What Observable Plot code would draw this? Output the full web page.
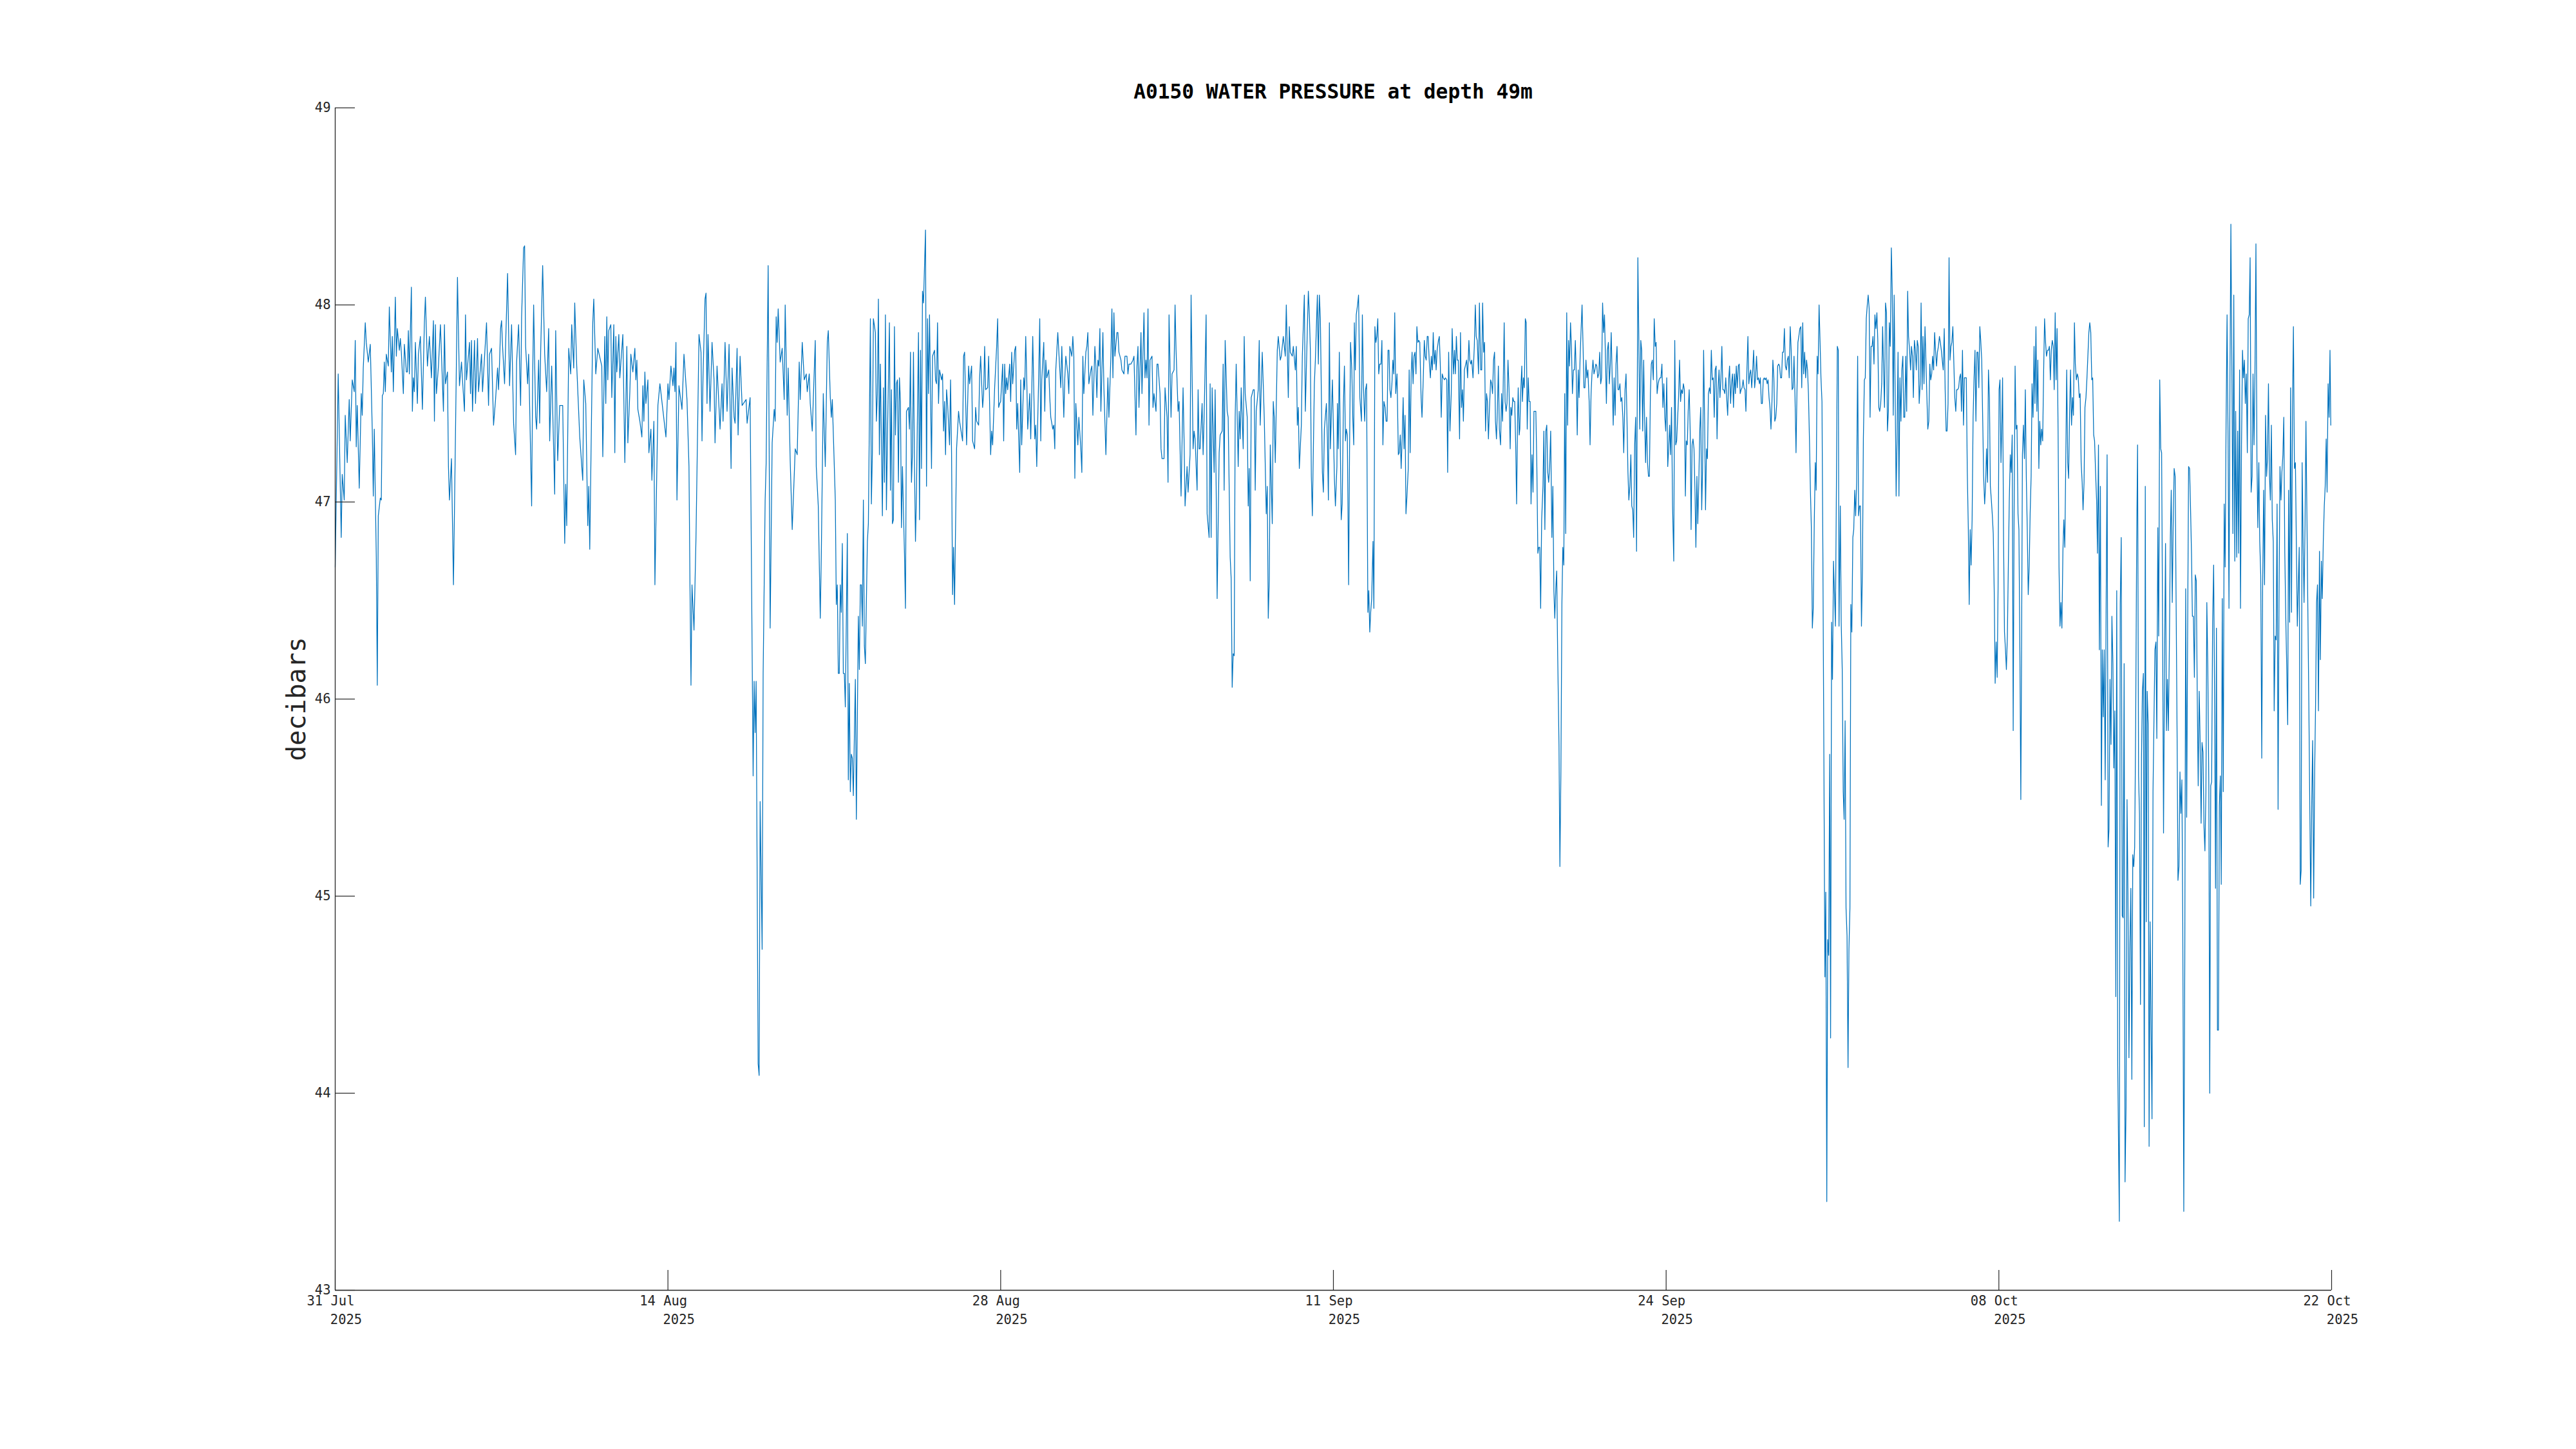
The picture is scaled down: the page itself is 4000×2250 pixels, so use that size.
<!DOCTYPE html>
<html>
<head>
<meta charset="utf-8">
<script src="https://cdn.jsdelivr.net/npm/d3@7"></script>
<script src="https://cdn.jsdelivr.net/npm/@observablehq/plot@0.6"></script>
<style>
html, body { margin: 0; padding: 0; background: #ffffff; }
#chart { position: relative; width: 4000px; height: 2250px; overflow: hidden; }
#chart figure { position: relative; margin: 0; }
#chart h2 {
  position: absolute; top: 126px; left: 520px; width: 3100px; margin: 0;
  text-align: center; font-family: "DejaVu Sans Mono", monospace; font-weight: bold;
  font-size: 31.2px; line-height: 32px; color: #000000;
}
</style>
</head>
<body>
<div id="chart"></div>
<script>
const chartTitle = "A0150 WATER PRESSURE at depth 49m";
const yLabel = "decibars";
const seriesStart = "2025-07-31T00:00:00Z";
const seriesEnd = "2025-10-22T00:00:00Z";
const yTicks = [43, 44, 45, 46, 47, 48, 49];
const xTickTimes = ["2025-07-31T00:00Z", "2025-08-13T20:00Z", "2025-08-27T16:00Z", "2025-09-10T12:00Z", "2025-09-24T08:00Z", "2025-10-08T04:00Z", "2025-10-22T00:00Z"];
const xTickDays = ["31 Jul", "14 Aug", "28 Aug", "11 Sep", "24 Sep", "08 Oct", "22 Oct"];
const xTickYears = ["2025", "2025", "2025", "2025", "2025", "2025", "2025"];

// [hours since 31 Jul 00:00, pressure in decibars]
const obsJulAug = [[0,46.67],[3,47.65],[6,46.82],[7,47.14],[9,47.01],[10,47.44],[12,47.20],[14,47.52],[15,47.31],[17,47.62],[19,47.56],[20,47.82],[21,47.28],[22,47.49],[24,47.07],[26,47.55],[27,47.44],[28,47.68],[30,47.91],[31,47.81],[33,47.71],[35,47.80],[37,47.36],[38,47.03],[39,47.37],[41,46.72],[42,46.07],[43,46.93],[45,47.02],[46,47.01],[47,47.54],[48,47.55],[49,47.71],[50,47.56],[51,47.75],[53,47.69],[54,47.99],[56,47.66],[57,47.84],[58,47.56],[60,48.04],[61,47.74],[62,47.88],[64,47.77],[65,47.83],[66,47.76],[68,47.55],[69,47.80],[71,47.66],[72,47.66],[73,47.87],[74,47.65],[76,48.09],[77,47.46],[78,47.63],[79,47.56],[80,47.81],[82,47.50],[83,47.75],[85,47.84],[87,47.47],[89,47.91],[90,48.04],[92,47.69],[94,47.84],[96,47.63],[98,47.92],[99,47.41],[100,47.90],[101,47.55],[103,47.69],[105,47.90],[108,47.46],[109,47.90],[110,47.60],[112,47.66],[113,47.18],[114,47.01],[116,47.22],[118,46.58],[120,47.34],[122,48.14],[124,47.59],[126,47.71],[127,47.62],[129,47.46],[130,47.95],[131,47.62],[134,47.81],[135,47.55],[136,47.82],[137,47.46],[139,47.82],[140,47.50],[142,47.83],[143,47.56],[146,47.75],[147,47.56],[151,47.91],[153,47.49],[154,47.75],[156,47.78],[158,47.39],[160,47.52],[162,47.68],[163,47.57],[164,47.71],[165,47.88],[166,47.92],[167,47.79],[169,47.60],[170,47.79],[172,48.16],[174,47.59],[176,47.90],[178,47.40],[180,47.24],[181,47.71],[183,47.90],[185,47.49],[186,47.94],[188,48.29],[189,48.30],[190,47.79],[192,47.60],[193,47.75],[196,46.98],[197,47.62],[198,48.00],[200,47.43],[201,47.37],[203,47.72],[204,47.40],[205,47.76],[207,48.20],[209,47.75],[211,47.56],[213,47.88],[214,47.31],[216,47.69],[219,47.04],[220,47.87],[222,47.21],[224,47.49],[227,47.49],[229,46.79],[230,47.09],[231,46.88],[233,47.78],[235,47.65],[236,47.90],[238,47.68],[239,48.01],[241,47.69],[244,47.33],[247,47.11],[248,47.62],[250,47.50],[252,46.88],[253,47.08],[254,46.76],[257,47.91],[258,48.03],[260,47.65],[262,47.78],[266,47.69],[267,47.23],[269,47.84],[270,47.50],[271,47.94],[272,47.62],[273,47.87],[275,47.90],[276,47.53],[278,47.90],[279,47.25],[280,47.84],[281,47.66],[283,47.85],[284,47.63],[287,47.85],[289,47.20],[291,47.79],[292,47.30],[294,47.56],[295,47.75],[297,47.66],[299,47.78],[300,47.62],[301,47.72],[302,47.47],[304,47.41],[306,47.33],[307,47.59],[308,47.41],[309,47.66],[310,47.50],[312,47.62],[313,47.25],[315,47.37],[316,47.11],[318,47.41],[319,46.58],[322,47.49],[324,47.60],[330,47.33],[332,47.60],[333,47.52],[335,47.69],[337,47.59],[338,47.68],[339,47.56],[340,47.81],[341,47.01],[343,47.59],[346,47.47],[348,47.75],[351,47.52],[353,47.18],[354,46.57],[355,46.07],[356,46.58],[358,46.35],[360,46.82],[363,47.85],[365,47.76],[366,47.31],[367,47.63],[369,48.03],[370,48.06],[371,47.50],[372,47.85],[374,47.46],[376,47.81],[378,47.62],[379,47.30],[381,47.69],[384,47.37],[386,47.60],[387,47.41],[389,47.81],[391,47.46],[393,47.80],[395,47.17],[396,47.68],[398,47.43],[399,47.40],[401,47.78],[402,47.34],[404,47.74],[406,47.49],[410,47.52],[411,47.40],[414,47.53],[417,45.61],[418,46.09],[419,45.83],[420,46.09],[422,44.15],[423,44.09],[424,45.48],[426,44.73],[427,46.13],[429,47.01],[430,47.20],[432,48.20],[434,46.36],[436,47.30],[438,47.47],[439,47.41],[440,47.94],[441,47.81],[442,47.98],[444,47.71],[446,47.78],[448,47.52],[449,48.00],[451,47.44],[452,47.68],[454,47.21],[456,46.86],[459,47.27],[461,47.24],[463,47.71],[464,47.52],[466,47.81],[468,47.62],[470,47.65],[471,47.56],[473,47.65],[474,47.50],[476,47.36],[479,47.82],[480,47.18],[482,46.98],[484,46.41],[485,46.72],[487,47.55],[489,47.18],[491,47.81],[492,47.87],[494,47.53],[495,47.43],[496,47.52],[499,47.01]];

const obsAugSep = [[500,46.48],[501,46.58],[502,46.13],[503,46.13],[504,46.58],[505,46.44],[506,46.79],[507,46.13],[508,46.13],[509,45.96],[511,46.84],[512,45.59],[513,46.08],[514,45.53],[515,45.72],[516,45.70],[517,45.51],[519,46.10],[520,45.39],[522,46.42],[523,46.15],[524,46.58],[525,46.58],[526,46.37],[527,47.01],[528,46.27],[529,46.18],[531,46.80],[532,46.89],[534,47.93],[535,46.99],[536,47.25],[537,47.93],[539,47.86],[540,47.41],[541,47.55],[542,48.03],[543,47.24],[544,47.70],[546,46.93],[547,47.58],[548,47.10],[549,47.95],[550,46.96],[551,47.32],[553,47.91],[554,47.06],[555,47.57],[556,46.89],[557,46.91],[558,47.89],[559,47.34],[560,47.60],[561,47.62],[562,47.10],[563,47.63],[564,47.51],[565,46.87],[566,47.18],[568,46.74],[569,46.46],[570,47.46],[572,47.48],[573,47.37],[574,47.76],[575,47.10],[576,47.25],[577,47.76],[578,47.18],[579,46.80],[580,47.05],[582,47.86],[583,46.91],[584,47.77],[585,47.17],[586,48.07],[587,48.01],[589,48.38],[590,47.08],[591,47.93],[592,47.55],[593,47.95],[595,47.17],[596,47.74],[598,47.77],[599,47.62],[600,47.60],[601,47.91],[602,47.50],[603,47.67],[605,47.62],[606,47.65],[607,47.36],[608,47.51],[609,47.24],[610,47.57],[611,47.50],[613,47.29],[614,47.62],[615,47.25],[616,46.53],[617,46.77],[618,46.48],[620,47.27],[622,47.46],[623,47.41],[626,47.31],[627,47.74],[628,47.76],[630,47.29],[632,47.69],[633,47.60],[635,47.69],[636,47.31],[638,47.27],[639,47.48],[640,47.41],[642,47.39],[643,47.63],[644,47.74],[646,47.48],[647,47.55],[648,47.79],[649,47.57],[651,47.58],[652,47.74],[654,47.24],[655,47.36],[656,47.29],[658,47.58],[660,47.79],[661,47.93],[662,47.48],[663,47.50],[664,47.51],[666,47.70],[667,47.31],[668,47.70],[669,47.55],[670,47.63],[671,47.57],[673,47.70],[674,47.51],[675,47.76],[676,47.60],[678,47.77],[679,47.79],[680,47.37],[681,47.50],[683,47.15],[684,47.62],[685,47.29],[687,47.63],[688,47.57],[689,47.84],[690,47.63],[691,47.37],[693,47.55],[694,47.32],[695,47.55],[696,47.84],[698,47.32],[699,47.39],[700,47.18],[702,47.65],[703,47.93],[704,47.31],[705,47.62],[707,47.81],[708,47.46],[709,47.72],[710,47.63],[712,47.67],[713,47.53],[714,47.43],[716,47.37],[717,47.39],[718,47.27],[719,47.67],[721,47.86],[723,47.67],[724,47.58],[725,47.79],[727,47.43],[728,47.63],[729,47.74],[731,47.65],[732,47.55],[733,47.79],[735,47.74],[736,47.84],[737,47.74],[738,47.12],[739,47.50],[741,47.29],[742,47.43],[744,47.27],[745,47.15],[746,47.74],[747,47.55],[749,47.76],[750,47.79],[751,47.86],[752,47.60],[754,47.67],[755,47.69],[756,47.44],[758,47.79],[759,47.69],[760,47.53],[761,47.72],[762,47.69],[763,47.88],[764,47.46],[766,47.86],[767,47.58],[769,47.24],[770,47.44],[771,47.63],[772,47.43],[774,47.74],[775,47.98],[776,47.63],[777,47.96],[778,47.74],[780,47.86],[781,47.86],[782,47.76],[784,47.72],[785,47.67],[787,47.65],[788,47.74],[790,47.74],[791,47.65],[792,47.70],[794,47.70],[796,47.72],[797,47.74],[799,47.34],[800,47.69],[801,47.79],[802,47.48],[804,47.86],[805,47.55],[807,47.96],[808,47.63],[809,47.72],[810,47.63],[811,47.98],[812,47.39],[813,47.72],[815,47.74],[816,47.48],[817,47.55],[819,47.46],[820,47.70],[821,47.70],[823,47.55],[824,47.27],[825,47.22],[827,47.22],[828,47.58],[830,47.43],[831,47.10],[832,47.95],[834,47.43],[835,47.65],[837,47.67],[838,48.00],[839,47.77],[841,47.46],[842,47.51],[844,47.03],[846,47.58],[847,47.32],[848,46.98],[850,47.18],[851,47.05],[853,47.24],[854,48.05],[856,47.27],[857,47.36],[858,47.32],[860,47.06],[861,47.57],[862,47.27],[863,47.27],[865,47.50],[866,47.24],[867,47.43],[869,47.95],[870,46.94],[872,46.82],[873,47.60],[874,46.82],[875,47.58],[877,47.15],[878,47.57],[879,47.08],[880,46.51],[882,47.25],[883,47.34],[885,47.36],[886,47.70],[887,47.06],[888,47.82],[890,47.46],[891,47.43],[893,46.72],[894,46.61],[895,46.06],[896,46.23],[897,46.22],[898,47.43],[899,47.70],[901,47.18],[902,47.46],[903,47.32],[904,47.58],[906,47.27],[907,47.84],[908,47.55],[910,47.43],[911,46.98],[912,47.17],[913,46.60],[914,47.53],[916,47.57],[917,47.57],[918,47.06],[919,47.46],[921,47.57],[922,47.82],[923,47.39],[925,47.76],[926,47.60],[927,47.43],[929,46.94],[930,47.08],[931,46.41],[932,46.60],[933,47.29],[935,46.89],[936,47.51],[937,47.43],[938,47.20],[940,47.77],[941,47.84],[943,47.72],[944,47.74],[946,47.84],[948,47.74],[949,48.00],[950,47.77],[951,47.53],[952,47.89],[953,47.76],[955,47.74],[956,47.79],[958,47.67],[959,47.79],[960,47.39],[961,47.48],[962,47.17],[964,47.39],[965,47.74],[967,48.05],[968,47.46],[970,47.88],[971,48.07],[972,47.95],[973,47.77],[974,47.13],[975,46.93],[977,47.60],[978,47.72],[980,48.05],[981,47.70],[982,48.05],[983,47.93],[985,47.15],[986,47.05],[987,47.37],[989,47.50],[990,47.32],[991,47.01],[992,47.91],[993,47.27],[995,47.62],[997,47.12],[998,46.98],[999.5,47.18]];

const obsSep = [[1000,47.50],[1000.9,47.27],[1001.9,47.76],[1002.8,47.32],[1003.8,46.91],[1004.8,46.99],[1006,47.50],[1007,47.69],[1008,47.31],[1008.9,47.37],[1009.9,47.34],[1011.2,46.58],[1012.1,47.25],[1013.1,47.81],[1014.4,47.67],[1015.3,47.43],[1016.3,47.29],[1016.9,47.91],[1017.9,47.67],[1018.8,47.95],[1020.1,48.00],[1021.1,48.05],[1022.4,47.53],[1024,47.41],[1024.9,47.95],[1025.9,47.60],[1027.2,47.41],[1028.1,47.57],[1029.1,47.60],[1030.4,46.44],[1031.3,46.55],[1032.3,46.34],[1033.2,46.44],[1034.2,46.51],[1035.5,46.80],[1036.4,46.46],[1037.4,47.89],[1038.4,47.81],[1039.3,47.84],[1040.3,47.93],[1041.2,47.65],[1042.2,47.70],[1043.5,47.70],[1044.4,47.82],[1045.4,47.29],[1046.4,47.51],[1047.6,47.48],[1048.6,47.41],[1049.6,47.41],[1050.5,47.77],[1051.5,47.77],[1052.4,47.57],[1053.4,47.53],[1054.4,47.60],[1055.3,47.72],[1056.3,47.65],[1057.2,47.96],[1058.2,47.55],[1059.5,47.65],[1060.8,47.24],[1061.7,47.25],[1062.7,47.34],[1063.6,47.17],[1064.6,47.32],[1065.6,47.53],[1066.5,47.27],[1067.5,47.44],[1068.4,46.94],[1069.4,47.03],[1070.7,47.17],[1071.6,47.67],[1072.6,47.25],[1073.6,47.65],[1074.5,47.76],[1075.5,47.60],[1076.4,47.74],[1077.4,47.76],[1078.4,47.65],[1079.3,47.89],[1080.3,47.81],[1081.2,47.82],[1082.2,47.81],[1083.5,47.53],[1084.4,47.43],[1085.7,47.63],[1086.7,47.82],[1087.6,47.74],[1088.6,47.72],[1089.6,47.84],[1090.5,47.84],[1091.8,47.70],[1092.8,47.63],[1093.7,47.74],[1094.7,47.67],[1095.6,47.86],[1096.6,47.70],[1097.6,47.77],[1098.5,47.67],[1099.5,47.77],[1100.8,47.82],[1101.7,47.84],[1102.7,47.69],[1103.6,47.43],[1104.6,47.65],[1105.6,47.63],[1106.8,47.62],[1107.8,47.63],[1109.1,47.62],[1110,47.15],[1111,47.76],[1112.3,47.36],[1113.6,47.55],[1114.5,47.88],[1115.8,47.65],[1116.8,47.77],[1117.7,47.65],[1118.7,47.84],[1119.6,47.72],[1120.6,47.72],[1121.9,47.32],[1122.8,47.86],[1123.8,47.48],[1124.8,47.57],[1125.7,47.41],[1126.7,47.67],[1127.6,47.69],[1128.9,47.72],[1129.9,47.63],[1131.2,47.82],[1132.1,47.72],[1133.1,47.70],[1134,47.72],[1135.3,47.63],[1136.6,47.79],[1137.6,48.00],[1138.5,47.84],[1139.5,47.82],[1140.8,47.65],[1141.7,48.01],[1143,47.67],[1144,47.67],[1144.9,48.01],[1145.9,47.76],[1146.8,47.81],[1147.8,47.36],[1148.8,47.55],[1149.7,47.51],[1150.7,47.32],[1151.6,47.46],[1152.9,47.62],[1153.9,47.60],[1154.8,47.55],[1155.8,47.72],[1156.8,47.76],[1157.7,47.41],[1158.7,47.32],[1159.6,47.46],[1160.6,47.69],[1161.6,47.37],[1162.8,47.29],[1163.8,47.55],[1164.8,47.41],[1165.4,47.58],[1166.4,47.91],[1167.3,47.51],[1168.3,47.46],[1169.2,47.50],[1170.2,47.72],[1171.2,47.58],[1172.4,47.27],[1173.1,47.48],[1174,47.44],[1175,47.53],[1176,47.51],[1176.9,47.51],[1177.9,47.29],[1178.8,46.99],[1179.8,47.43],[1180.4,47.58],[1181.4,47.34],[1182,47.37],[1183,47.57],[1184,47.69],[1184.6,47.51],[1185.6,47.63],[1186.5,47.58],[1187.5,47.93],[1188.4,47.91],[1189.4,47.37],[1190.4,47.63],[1191.3,47.51],[1192.3,47.51],[1193.2,46.99],[1194.2,47.24],[1195.2,47.05],[1196.1,47.46],[1197.1,47.46],[1198,47.46],[1199,47.18],[1200,46.74],[1200.9,46.77],[1201.9,46.77],[1202.8,46.46],[1203.8,46.91],[1205.1,47.08],[1206,47.36],[1207,46.86],[1208,47.36],[1208.9,47.39],[1209.9,47.15],[1210.8,47.10],[1211.8,47.18],[1212.8,47.36],[1214,46.82],[1215,47.08],[1216,46.55],[1216.9,46.41],[1217.9,46.56],[1218.8,46.65],[1219.8,46.22],[1221.1,45.77],[1222,45.15],[1223,45.63],[1224,46.48],[1224.9,46.77],[1225.9,46.68],[1226.8,47.55],[1227.8,46.84],[1228.8,47.96],[1229.7,47.39],[1230.7,47.82],[1231.6,47.69],[1232.6,47.91],[1233.6,47.77],[1234.5,47.55],[1235.5,47.67],[1236.4,47.67],[1237.4,47.82],[1238.4,47.63],[1239.3,47.34],[1240.3,47.67],[1241.2,47.53],[1242.2,47.74],[1243.2,47.88],[1244.1,48.00],[1245.1,47.79],[1246,47.58],[1247,47.58],[1248,47.72],[1248.9,47.63],[1249.9,47.67],[1251.2,47.51],[1252.1,47.29],[1253.1,47.55],[1254,47.65],[1255,47.72],[1256,47.65],[1256.9,47.67],[1257.9,47.70],[1258.8,47.69],[1259.8,47.63],[1260.8,47.65],[1261.7,47.76],[1262.7,47.60],[1263.6,47.63],[1264.6,48.01],[1265.6,47.86],[1266.5,47.95],[1267.5,47.72],[1268.4,47.50],[1269.4,47.77],[1270.4,47.81],[1271.3,47.60],[1272.3,47.70],[1273.2,47.86],[1274.2,47.62],[1275.2,47.39],[1276.1,47.63],[1277.1,47.44],[1278,47.70],[1279,47.79],[1280,47.57],[1280.9,47.57],[1281.9,47.60],[1282.8,47.51],[1283.8,47.53],[1284.8,47.43],[1285.7,47.25],[1287,47.57],[1288,47.65],[1288.9,47.43],[1289.9,47.15],[1290.8,47.01],[1291.8,47.08],[1292.8,47.24],[1293.7,46.98],[1294.7,46.96],[1295.6,46.82],[1296.6,47.29],[1297.6,47.43],[1298.5,46.75],[1299.8,48.24],[1300.8,47.81],[1301.7,47.37],[1302.7,47.82],[1303.6,47.77],[1304.6,47.36],[1305.6,47.72],[1306.5,47.43],[1307.5,47.20],[1308.4,47.43],[1309.4,47.20],[1310.4,47.13],[1311.3,47.13],[1312.3,47.55],[1313.2,47.70],[1314.2,47.72],[1315.2,47.62],[1316.1,47.93],[1317.1,47.79],[1318,47.81],[1319,47.55],[1320,47.60],[1320.9,47.62],[1321.9,47.63],[1322.8,47.63],[1323.8,47.70],[1324.8,47.48],[1325.7,47.60],[1326.7,47.43],[1327.6,47.36],[1328.6,47.63],[1329.6,47.18],[1330.5,47.27],[1331.5,47.39],[1332.4,47.24],[1333.4,47.48],[1334.4,46.98],[1335.6,46.70],[1336.6,47.82],[1337.6,47.29],[1338.5,47.31],[1339.5,47.43],[1340.4,47.53],[1341.4,47.72],[1342.4,47.51],[1343.3,47.57],[1344.3,47.55],[1345.2,47.60],[1346.2,47.57],[1347.2,47.03],[1348.1,47.31],[1349.1,47.29],[1350,47.46],[1351,47.57],[1352,47.36],[1352.9,46.86],[1353.9,47.29],[1354.8,47.32],[1355.8,47.27],[1356.8,47.05],[1357.7,46.77],[1358.7,47.13],[1359.6,46.89],[1360.6,47.10],[1361.6,47.37],[1362.5,47.48],[1363.5,46.96],[1364.4,47.17],[1365.4,47.77],[1366.4,47.41],[1367.3,46.96],[1368.3,47.27],[1369.2,47.22],[1370.2,47.55],[1371.2,47.58],[1372.1,47.55],[1373.1,47.77],[1374,47.62],[1375,47.63],[1376,47.43],[1376.9,47.67],[1377.9,47.69],[1378.8,47.32],[1379.8,47.57],[1380.8,47.67],[1381.7,47.53],[1382.7,47.63],[1383.6,47.79],[1384.6,47.57],[1385.6,47.57],[1386.5,47.55],[1387.5,47.63],[1388.4,47.53],[1389.4,47.44],[1390.4,47.62],[1391.3,47.69],[1392.3,47.50],[1393.2,47.60],[1394.2,47.65],[1395.2,47.48],[1396.1,47.65],[1397.1,47.55],[1398,47.69],[1399,47.58],[1400,47.69],[1400.9,47.70],[1401.9,47.55],[1402.8,47.57],[1403.8,47.58],[1404.8,47.62],[1405.7,47.58],[1406.7,47.57],[1407.6,47.46],[1408.6,47.67],[1409.6,47.84],[1410.5,47.60],[1411.5,47.65],[1412.4,47.67],[1413.4,47.58],[1414.4,47.67],[1415.3,47.77],[1416.3,47.58],[1417.2,47.63],[1418.2,47.74],[1419.2,47.62],[1420.1,47.63],[1421.1,47.60],[1422,47.63],[1423,47.50],[1424,47.50],[1424.9,47.62],[1425.9,47.63],[1426.8,47.62],[1427.8,47.63],[1428.8,47.60],[1429.7,47.62],[1430.7,47.53],[1431.6,47.48],[1432.6,47.37],[1433.6,47.51],[1434.5,47.72],[1435.5,47.63],[1436.4,47.41],[1437.4,47.43],[1438.4,47.50],[1439.3,47.69],[1440.3,47.70],[1441.2,47.69],[1442.2,47.63],[1443.2,47.63],[1444.1,47.76],[1445.1,47.76],[1446,47.88],[1447,47.69],[1448,47.67],[1448.9,47.72],[1449.9,47.74],[1450.8,47.63],[1451.8,47.89],[1452.8,47.77],[1453.7,47.57],[1454.7,47.58],[1455.6,47.74],[1456.6,47.53],[1457.6,47.25],[1458.5,47.55],[1459.5,47.81],[1460.4,47.84],[1461.4,47.88],[1462.4,47.89],[1463.3,47.58],[1464.3,47.91],[1465.2,47.65],[1466.2,47.76],[1467.2,47.63],[1468.1,47.72],[1469.1,47.67],[1470,47.55],[1471,47.32],[1472,47.05],[1472.9,46.87],[1473.9,46.36],[1474.8,46.46],[1475.8,46.89],[1476.8,47.20],[1477.7,47.06],[1478.7,47.74],[1479.6,47.65],[1480.6,48.00],[1481.6,47.81],[1482.5,47.63],[1483.5,47.51],[1484.4,46.74],[1485.4,45.70],[1486.4,44.59],[1487.3,45.02],[1488.3,43.45],[1489.2,44.78],[1490.2,44.70],[1491.2,45.72],[1492.1,44.28],[1493.1,46.39],[1494,46.10],[1495,46.70],[1496,46.53],[1496.9,46.37],[1497.9,47.08],[1498.8,47.79],[1499.8,47.77]];

const obsOct = [[1500.5,46.37],[1501.8,46.98],[1502.7,46.39],[1503.7,46.15],[1504.7,45.53],[1505.6,45.39],[1506.6,45.89],[1507.5,44.94],[1508.5,44.80],[1509.5,44.13],[1510.4,44.73],[1511.4,44.94],[1512.3,46.48],[1513.3,46.34],[1514.3,46.82],[1515.2,46.86],[1516.2,47.06],[1517.1,46.93],[1518.1,47.10],[1519.1,47.74],[1520,46.93],[1521,46.98],[1521.9,46.98],[1522.9,46.37],[1523.9,46.67],[1524.8,47.32],[1525.8,47.62],[1526.7,47.63],[1527.7,47.93],[1528.7,48.00],[1529.6,48.05],[1530.6,47.98],[1531.5,47.43],[1532.5,47.79],[1533.5,47.79],[1534.4,47.84],[1535.4,47.70],[1536.3,47.95],[1537.3,47.88],[1538.3,47.96],[1539.2,47.82],[1540.2,47.48],[1541.1,47.46],[1542.1,47.50],[1543.1,47.60],[1544,47.89],[1545,47.67],[1545.9,47.48],[1546.9,48.01],[1547.9,47.96],[1548.8,47.36],[1549.8,47.46],[1550.7,47.91],[1551.7,47.79],[1552.7,48.29],[1553.6,48.08],[1554.6,47.44],[1555.5,48.05],[1556.5,47.57],[1557.5,47.03],[1558.4,47.32],[1559.4,47.76],[1560.3,47.03],[1561.3,47.63],[1562.3,47.41],[1563.2,47.67],[1564.2,47.74],[1565.1,47.43],[1566.1,47.43],[1567.1,47.74],[1568,47.46],[1569,48.07],[1569.9,47.84],[1570.9,47.77],[1571.9,47.67],[1572.8,47.79],[1573.8,47.74],[1574.7,47.53],[1575.7,47.82],[1576.7,47.77],[1577.6,47.67],[1578.6,47.82],[1579.5,47.79],[1580.5,47.50],[1581.5,47.60],[1582.4,48.01],[1583.4,47.57],[1584.3,47.84],[1585.3,47.60],[1586.3,47.89],[1587.2,47.72],[1588.2,47.53],[1589.1,47.37],[1590.1,47.41],[1591.1,47.70],[1592,47.62],[1593,47.65],[1593.9,47.74],[1594.9,47.67],[1595.9,47.86],[1596.8,47.77],[1597.8,47.69],[1598.7,47.76],[1599.7,47.79],[1600.7,47.84],[1601.6,47.81],[1602.6,47.77],[1603.5,47.72],[1604.5,47.67],[1605.5,47.88],[1606.4,47.57],[1607.4,47.36],[1608.3,47.36],[1609.3,47.50],[1610.3,48.24],[1611.2,47.72],[1612.2,47.79],[1613.1,47.81],[1614.1,47.89],[1615.1,47.70],[1616,47.53],[1617,47.46],[1617.9,47.57],[1618.9,47.57],[1619.9,47.58],[1620.8,47.63],[1621.8,47.65],[1622.7,47.46],[1623.7,47.77],[1624.7,47.39],[1625.6,47.63],[1626.6,47.63],[1627.5,47.63],[1628.5,47.15],[1629.5,46.87],[1630.4,46.48],[1631.4,46.86],[1632.3,46.68],[1633.3,46.91],[1634.3,47.43],[1635.2,47.62],[1636.2,47.77],[1637.1,47.41],[1638.1,47.76],[1639.1,47.76],[1640,47.58],[1641,47.89],[1641.9,47.82],[1642.9,47.72],[1643.9,47.41],[1644.8,47.13],[1645.8,46.99],[1646.7,47.08],[1647.7,47.27],[1648.7,47.10],[1649.6,47.67],[1650.6,47.53],[1651.5,47.08],[1652.5,47.01],[1653.5,46.93],[1654.4,46.84],[1655.4,46.53],[1656.3,46.08],[1657.3,46.29],[1658.3,46.11],[1659.2,46.56],[1660.2,47.57],[1661.1,47.62],[1662.1,47.20],[1663.1,47.43],[1663.7,47.63],[1664.7,46.80],[1665.6,46.34],[1666.6,46.25],[1667.5,46.15],[1668.5,46.32],[1669.5,46.70],[1670.4,47.01],[1671.4,47.24],[1672.3,47.15],[1673.3,47.34],[1674.3,45.84],[1675.2,46.94],[1676.2,47.69],[1677.1,47.37],[1678.1,47.39],[1679.1,46.94],[1680,46.86],[1681,46.22],[1681.9,45.49],[1682.6,46.18],[1683.5,47.24],[1684.5,47.39],[1685.5,47.22],[1686.4,47.57],[1687.4,47.12],[1688.3,46.87],[1689.3,46.53],[1690.3,46.68],[1691.2,46.94],[1692.2,47.13],[1693.1,47.60],[1694.1,47.43],[1695.1,47.79],[1696,47.50],[1697,47.89],[1697.9,47.46],[1698.9,47.72],[1699.9,47.17],[1700.8,47.41],[1701.8,47.29],[1702.7,47.37],[1703.7,47.31],[1704.7,47.67],[1705.6,47.93],[1706.6,47.81],[1707.5,47.74],[1708.5,47.77],[1709.5,47.77],[1710.4,47.79],[1711.4,47.62],[1712.3,47.77],[1713.3,47.82],[1714.3,47.79],[1715.2,47.57],[1716.2,47.96],[1717.1,47.62],[1718.1,47.88],[1719.1,47.36],[1720,46.67],[1721,46.37],[1721.9,46.49],[1722.9,46.36],[1723.9,46.75],[1724.8,46.91],[1725.8,46.77],[1726.7,47.18],[1727.7,47.67],[1728.7,47.20],[1729.6,47.12],[1730.6,47.46],[1731.5,47.67],[1732.5,47.39],[1733.5,47.53],[1734.4,47.44],[1735.4,47.91],[1736.3,47.70],[1737.3,47.62],[1738.3,47.65],[1739.2,47.63],[1740.2,47.53],[1741.1,47.55],[1742.1,47.20],[1743.1,47.10],[1744,46.96],[1745,47.10],[1745.9,47.48],[1746.9,47.53],[1747.9,47.63],[1748.8,47.74],[1749.8,47.86],[1750.7,47.91],[1751.7,47.86],[1752.7,47.62],[1753.6,47.63],[1754.6,47.34],[1755.5,47.31],[1756.5,47.15],[1757.5,47.01],[1758.4,46.74],[1759.4,47.29],[1760.3,46.25],[1761.3,47.08],[1762.3,45.46],[1763.2,46.25],[1764.2,45.91],[1765.1,46.25],[1766.1,45.59],[1767.1,46.53],[1768,47.24],[1769,45.25],[1769.9,45.34],[1770.9,46.10],[1771.9,45.77],[1772.8,46.42],[1773.8,46.18],[1774.7,45.65],[1775.7,45.94],[1776.7,44.49],[1777.6,46.55],[1778.6,44.14],[1779.5,43.69],[1780.2,43.35],[1781.1,46.48],[1782.1,46.82],[1783.1,44.90],[1784,44.89],[1785,46.18],[1785.9,43.55],[1786.9,43.93],[1787.9,45.49],[1788.8,45.01],[1789.8,44.18],[1790.7,44.73],[1791.7,45.04],[1792.7,44.07],[1793.6,45.21],[1794.6,45.15],[1795.5,45.25],[1796.5,45.87],[1797.5,46.80],[1798.4,47.29],[1799.4,45.61],[1800.3,45.42],[1801.3,44.45],[1802.3,45.70],[1803.2,46.04],[1804.2,46.13],[1805.1,43.83],[1806.1,47.08],[1807.1,44.87],[1808,46.04],[1809,45.87],[1809.9,43.73],[1810.9,44.87],[1811.9,44.32],[1812.8,43.87],[1813.8,45.53],[1814.7,45.87],[1815.7,46.25],[1816.7,46.29],[1817.6,45.80],[1818.6,46.87],[1819.5,46.32],[1820.5,47.62],[1821.5,47.27],[1822.4,47.25],[1823.4,46.32],[1824.3,45.32],[1825.3,46.18],[1826.3,46.79],[1827.2,45.84],[1828.2,46.10],[1829.1,45.84],[1830.1,46.25],[1831.1,46.82],[1832,47.06],[1833,46.49],[1833.9,46.87],[1834.9,47.17],[1835.9,47.13],[1836.8,46.53],[1837.8,45.84],[1838.7,45.08],[1839.7,45.15],[1840.7,45.63],[1841.6,45.42],[1842.6,45.59],[1843.5,44.87],[1844.5,43.40],[1845.5,44.66],[1846.4,46.56],[1847.4,45.40],[1848.3,46.29],[1849.3,47.18],[1850.3,47.17],[1851.2,46.98],[1852.2,46.74],[1853.1,46.42],[1854.1,46.42],[1855.1,46.11],[1856,46.63],[1857,46.60],[1857.9,46.04],[1858.9,45.56],[1859.9,46.04],[1860.8,45.80],[1861.8,45.37],[1862.7,45.78],[1863.7,45.73],[1864.7,45.35],[1865.6,45.23],[1866.6,45.53],[1867.5,46.49],[1868.5,46.16],[1869.5,45.56],[1870.4,44.00],[1871.4,45.56],[1872.3,45.58],[1873.3,46.39],[1874.3,46.68],[1875.2,46.04],[1876.2,45.04],[1877.1,46.36],[1878.1,44.32],[1879.1,44.32],[1880,45.46],[1881,45.61],[1881.9,45.06],[1882.9,46.51],[1883.9,45.53],[1884.8,46.99],[1885.8,46.67],[1886.7,47.39],[1887.7,47.95],[1888.7,47.32],[1889.6,46.46],[1890.6,47.63],[1891.5,48.41],[1892.5,47.67],[1893.5,46.84],[1894.4,48.05],[1895.4,46.70],[1896.3,47.46],[1897.3,46.72],[1898.3,47.36],[1899.2,46.74],[1900.2,47.67],[1901.1,46.46],[1902.1,47.29],[1903.1,47.77],[1904,47.63],[1905,47.72],[1905.9,47.50],[1906.9,47.65],[1907.9,47.25],[1908.8,47.93],[1909.8,47.95],[1910.7,48.24],[1911.7,47.05],[1912.7,47.13],[1913.6,47.65],[1914.6,47.29],[1915.5,47.65],[1916.5,48.31],[1917.5,47.22],[1918.4,46.87],[1919.4,47.20],[1920.3,46.80],[1921.3,46.63],[1922.3,45.70],[1923.2,46.58],[1924.2,47.06],[1925.1,46.58],[1926.1,47.44],[1927.1,47.13],[1928,47.22],[1929,47.60],[1929.9,47.15],[1930.9,47.01],[1931.9,47.39],[1932.8,46.91],[1933.8,46.80],[1934.7,45.94],[1935.7,46.32],[1936.7,46.30],[1937.6,46.99],[1938.6,45.44],[1939.5,46.49],[1940.5,47.18],[1941.5,47.01],[1942.4,47.15],[1943.4,47.24],[1944.3,47.43],[1945.3,46.74],[1946.3,46.41],[1947.2,46.17],[1948.2,45.87],[1949.1,47.06],[1950.1,46.39],[1951.1,47.58],[1952,46.44],[1953,47.48],[1953.9,47.89],[1954.9,47.17],[1955.9,47.20],[1956.8,46.80],[1957.8,46.37],[1958.7,46.56],[1959.7,46.77],[1960.7,45.06],[1961.6,45.13],[1962.6,47.20],[1963.5,46.82],[1964.5,46.49],[1965.5,46.89],[1966.4,47.41],[1967.4,46.91],[1968.3,46.46],[1969.3,45.97],[1970.3,45.42],[1971.2,44.95],[1972.2,45.49],[1973.1,45.79],[1974.1,44.99],[1975.1,45.63],[1976,45.97],[1977,46.49],[1977.9,46.58],[1978.9,45.94],[1979.9,46.75],[1980.8,46.20],[1981.8,46.70],[1982.7,46.51],[1983.7,46.80],[1984.7,46.98],[1985.6,47.08],[1986.6,47.32],[1987.5,47.05],[1988.5,47.60],[1989.5,47.43],[1990.4,47.77],[1991.2,47.39]];

const t0 = new Date(seriesStart).getTime();
const series = [...obsJulAug, ...obsAugSep, ...obsSep, ...obsOct]
  .map(([h, p]) => ({date: new Date(t0 + h * 3600e3), pressure: p}));
const tickDates = xTickTimes.map(s => new Date(s));
const dayByTime = new Map(tickDates.map((d, i) => [+d, xTickDays[i]]));
const yearByTime = new Map(tickDates.map((d, i) => [+d, xTickYears[i]]));

const W = 4000, H = 2250;
const mL = 520, mR = 380, mT = 167, mB = 247;
const tickLen = 31;
const axisColor = "#262626";

const plot = Plot.plot({
  width: W, height: H,
  marginLeft: mL, marginRight: mR, marginTop: mT, marginBottom: mB,
  title: chartTitle,
  style: {background: "#ffffff", color: axisColor, fontFamily: "DejaVu Sans Mono", fontSize: "20.5px", overflow: "visible"},
  x: {type: "utc", domain: [new Date(seriesStart), new Date(seriesEnd)]},
  y: {domain: [43, 49]},
  marks: [
    Plot.lineY(series, {x: "date", y: "pressure", stroke: "#0072BD", strokeWidth: 1.25}),
    Plot.ruleX([new Date(seriesStart)], {stroke: axisColor, strokeWidth: 1.3}),
    Plot.ruleY([43], {stroke: axisColor, strokeWidth: 1.3}),
    Plot.tickY(yTicks, {y: d => d, stroke: axisColor, strokeWidth: 1.2, insetRight: (W - mL - mR) - tickLen}),
    Plot.tickX(tickDates, {x: d => d, stroke: axisColor, strokeWidth: 1.2, insetTop: (H - mT - mB) - tickLen}),
    Plot.axisY({ticks: yTicks, tickSize: 0, tickPadding: 7, tickFormat: d => String(d), label: null, fill: axisColor}),
    Plot.axisX({ticks: tickDates, tickSize: 0, tickPadding: 9, tickFormat: d => dayByTime.get(+d), label: null, dx: -7, fill: axisColor}),
    Plot.axisX({ticks: tickDates, tickSize: 0, tickPadding: 38, tickFormat: d => yearByTime.get(+d), label: null, dx: 17, fill: axisColor}),
    Plot.text([yLabel], {text: d => d, frameAnchor: "left", rotate: -90, dx: -47, lineAnchor: "bottom", textAnchor: "middle", fontSize: 40, fill: axisColor})
  ]
});
document.getElementById("chart").appendChild(plot);
</script>
</body>
</html>
